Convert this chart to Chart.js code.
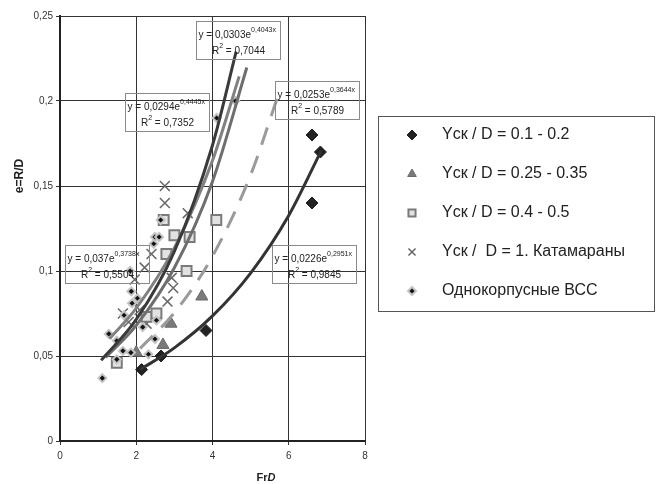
<!DOCTYPE html>
<html>
<head>
<meta charset="utf-8">
<script src="https://cdn.jsdelivr.net/npm/chart.js@4"></script>
<style>
  html, body { margin: 0; padding: 0; background: #fff; }
  #wrap { width: 663px; height: 484px; }
</style>
</head>
<body>
<div id="wrap"><canvas id="chart" width="663" height="484"></canvas></div>
<script>
// series labels
const seriesNames = [
  "Yск / D = 0.1 - 0.2",
  "Yск / D = 0.25 - 0.35",
  "Yск / D = 0.4 - 0.5",
  "Yск /  D = 1. Катамараны",
  "Однокорпусные ВСС",
];

// scatter points
const s1x = [2.14, 2.65, 3.83, 6.61, 6.61, 6.83];
const s1y = [0.042, 0.05, 0.065, 0.14, 0.18, 0.17];

const s2x = [2.0, 2.7, 2.91, 3.72];
const s2y = [0.052, 0.0565, 0.069, 0.085];

const s3x = [1.49, 2.27, 2.53, 2.72, 2.79, 3.0, 3.32, 3.4, 4.1];
const s3y = [0.046, 0.073, 0.075, 0.13, 0.11, 0.121, 0.1, 0.12, 0.13];

const s4x = [2.75, 2.75, 2.4, 2.22, 1.96, 2.93, 2.97, 2.82, 3.35, 1.65, 2.09, 2.27, 1.8];
const s4y = [0.15, 0.14, 0.11, 0.102, 0.095, 0.096, 0.09, 0.082, 0.134, 0.075, 0.077, 0.069, 0.07];

const s5x = [1.11, 1.49, 1.28, 1.49, 1.65, 1.86, 2.32, 2.49, 2.53, 1.68, 1.89, 2.03, 1.87, 1.84, 2.46, 2.49, 2.6, 2.64, 2.17, 4.11, 4.6];
const s5y = [0.037, 0.048, 0.063, 0.059, 0.053, 0.052, 0.051, 0.06, 0.071, 0.074, 0.081, 0.084, 0.088, 0.1, 0.116, 0.12, 0.12, 0.13, 0.067, 0.19, 0.2];

// trend curves, points
const tAx = [2.1, 3, 4, 5, 6, 6.85];
const tAy = [0.042, 0.0548, 0.0736, 0.0988, 0.1327, 0.1707];
const tBx = [1.08, 2, 3, 4, 4.62];
const tBy = [0.0475, 0.0715, 0.1116, 0.174, 0.229];
const tCx = [1.2, 2, 3, 4, 4.9];
const tCy = [0.0492, 0.068, 0.1019, 0.1527, 0.2197];
const tDx = [1.3, 2, 3, 4, 4.7];
const tDy = [0.0601, 0.0781, 0.1136, 0.165, 0.2145];
const tEx = [2.1, 3, 4, 5, 5.7];
const tEy = [0.0544, 0.0755, 0.1087, 0.1565, 0.2019];

// equation texts
const eqMain = ["y = 0,0303e", "y = 0,0294e", "y = 0,0253e", "y = 0,037e", "y = 0,0226e"];
const eqPow = ["0,4043x", "0,4445x", "0,3644x", "0,3738x", "0,2951x"];
const eqR2 = ["0,7044", "0,7352", "0,5789", "0,5504", "0,9845"];
// box top-left corner in data units
const eqAtX = [3.57, 1.70, 5.64, 0.12, 5.57];
const eqAtY = [0.247, 0.2047, 0.2118, 0.1153, 0.1153];

const xTicks = ["0", "2", "4", "6", "8"];
const yTicks = ["0", "0,05", "0,1", "0,15", "0,2", "0,25"];

const pts = (xs, ys) => xs.map((x, i) => ({ x: x, y: ys[i] }));

const trend = (xs, ys, color, dash) => ({
  data: pts(xs, ys),
  showLine: true,
  borderColor: color,
  borderWidth: 3,
  borderDash: dash || [],
  pointRadius: 0,
  cubicInterpolationMode: "monotone",
  fill: false,
  order: 0,
});

const datasets = [
  trend(tAx, tAy, "#333333"),
  trend(tBx, tBy, "#3a3a3a"),
  trend(tCx, tCy, "#6e6e6e"),
  trend(tDx, tDy, "#808080"),
  trend(tEx, tEy, "#9a9a9a", [18, 12]),
  {
    label: seriesNames[4],
    data: pts(s5x, s5y),
    pointStyle: "rectRot",
    pointRadius: 4,
    backgroundColor: "#111111",
    borderColor: "#c4c4c4",
    borderWidth: 2,
    order: 1,
  },
  {
    label: seriesNames[0],
    data: pts(s1x, s1y),
    pointStyle: "rectRot",
    pointRadius: 6,
    backgroundColor: "#222222",
    borderColor: "#222222",
    borderWidth: 1,
    order: 2,
  },
  {
    label: seriesNames[1],
    data: pts(s2x, s2y),
    pointStyle: "triangle",
    pointRadius: 7,
    backgroundColor: "#7a7a7a",
    borderColor: "#6a6a6a",
    borderWidth: 1,
    order: 3,
  },
  {
    label: seriesNames[2],
    data: pts(s3x, s3y),
    pointStyle: "rect",
    pointRadius: 7,
    backgroundColor: "#e2e2e2",
    borderColor: "#7a7a7a",
    borderWidth: 2,
    order: 4,
  },
  {
    label: seriesNames[3],
    data: pts(s4x, s4y),
    pointStyle: "crossRot",
    pointRadius: 7,
    backgroundColor: "#666666",
    borderColor: "#666666",
    borderWidth: 1.5,
    order: 5,
  },
];

// legend order as in the picture
const legendOrder = [6, 7, 8, 9, 5];

const extras = {
  id: "extras",
  afterDatasetsDraw(chart) {
    const ctx = chart.ctx;
    const xs = chart.scales.x;
    const ys = chart.scales.y;
    ctx.save();

    // equation boxes
    eqMain.forEach((txt, i) => {
      const bx = Math.round(xs.getPixelForValue(eqAtX[i])) + 0.5;
      const by = Math.round(ys.getPixelForValue(eqAtY[i])) + 0.5;
      const w = 84, h = 38;
      ctx.strokeStyle = "#8a8a8a";
      ctx.lineWidth = 1;
      ctx.strokeRect(bx, by, w, h);
      ctx.fillStyle = "#222";
      ctx.textBaseline = "alphabetic";
      ctx.textAlign = "left";
      ctx.font = "10px 'Liberation Sans', Arial";
      ctx.fillText(txt, bx + 2, by + 16);
      const tw = ctx.measureText(txt).width;
      ctx.font = "7px 'Liberation Sans', Arial";
      ctx.fillText(eqPow[i], bx + 2 + tw, by + 10);
      // R² line centered
      ctx.font = "10px 'Liberation Sans', Arial";
      const rest = " = " + eqR2[i];
      const wR = ctx.measureText("R").width;
      const wRest = ctx.measureText(rest).width;
      ctx.font = "7px 'Liberation Sans', Arial";
      const w2 = ctx.measureText("2").width;
      let sx = bx + (w - (wR + w2 + wRest)) / 2;
      ctx.font = "10px 'Liberation Sans', Arial";
      ctx.fillText("R", sx, by + 32);
      ctx.font = "7px 'Liberation Sans', Arial";
      ctx.fillText("2", sx + wR, by + 26);
      ctx.font = "10px 'Liberation Sans', Arial";
      ctx.fillText(rest, sx + wR + w2, by + 32);
    });

    // axis titles
    ctx.fillStyle = "#222";
    ctx.font = "bold 12px 'Liberation Sans', Arial";
    ctx.save();
    ctx.translate(23, 176);
    ctx.rotate(-Math.PI / 2);
    ctx.textAlign = "center";
    ctx.fillText("e=R/D", 0, 0);
    ctx.restore();

    ctx.textAlign = "left";
    ctx.font = "bold 11px 'Liberation Sans', Arial";
    const wFr = ctx.measureText("Fr").width;
    ctx.font = "italic bold 11px 'Liberation Sans', Arial";
    const wD = ctx.measureText("D").width;
    const tx = 266 - (wFr + wD) / 2;
    ctx.font = "bold 11px 'Liberation Sans', Arial";
    ctx.fillText("Fr", tx, 481);
    ctx.font = "italic bold 11px 'Liberation Sans', Arial";
    ctx.fillText("D", tx + wFr, 481);

    // legend box
    ctx.strokeStyle = "#555";
    ctx.lineWidth = 1;
    ctx.strokeRect(378.5, 116.5, 276, 195);
    legendOrder.forEach((di, row) => {
      const ds = chart.data.datasets[di];
      const cy = 135 + row * 39;
      const r = ds.pointStyle === "rectRot" && ds.pointRadius < 5 ? 4 : 5;
      ctx.fillStyle = ds.backgroundColor;
      ctx.strokeStyle = ds.borderColor;
      ctx.lineWidth = ds.borderWidth;
      Chart.helpers.drawPoint(ctx, {
        pointStyle: ds.pointStyle,
        radius: r,
        borderWidth: ds.borderWidth,
      }, 412, cy);
      ctx.fillStyle = "#222";
      ctx.font = "16px 'Liberation Sans', Arial";
      ctx.textBaseline = "middle";
      ctx.fillText(ds.label, 442, cy);
    });

    ctx.restore();
  },
};

const config = {
  type: "scatter",
  data: { datasets: datasets },
  options: {
    responsive: false,
    animation: false,
    layout: { padding: { left: 0, top: 16, right: 298, bottom: 0 } },
    plugins: {
      legend: { display: false },
      tooltip: { enabled: false },
    },
    scales: {
      x: {
        type: "linear",
        min: 0,
        max: 8,
        ticks: {
          stepSize: 2,
          color: "#333",
          font: { family: "'Liberation Sans', Arial", size: 10 },
          padding: 5,
          callback: (v) => xTicks[v / 2],
        },
        grid: { color: "#333", lineWidth: 1, tickLength: 4 },
        border: { color: "#222", width: 2 },
        afterFit: (s) => { s.height = 43; },
      },
      y: {
        type: "linear",
        min: 0,
        max: 0.25,
        ticks: {
          stepSize: 0.05,
          color: "#333",
          font: { family: "'Liberation Sans', Arial", size: 10 },
          padding: 3,
          callback: (v) => yTicks[Math.round(v / 0.05)],
        },
        grid: { color: "#333", lineWidth: 1, tickLength: 4 },
        border: { color: "#222", width: 2 },
        afterFit: (s) => { s.width = 60; },
      },
    },
  },
  plugins: [extras],
};

new Chart(document.getElementById("chart"), config);
</script>
</body>
</html>
